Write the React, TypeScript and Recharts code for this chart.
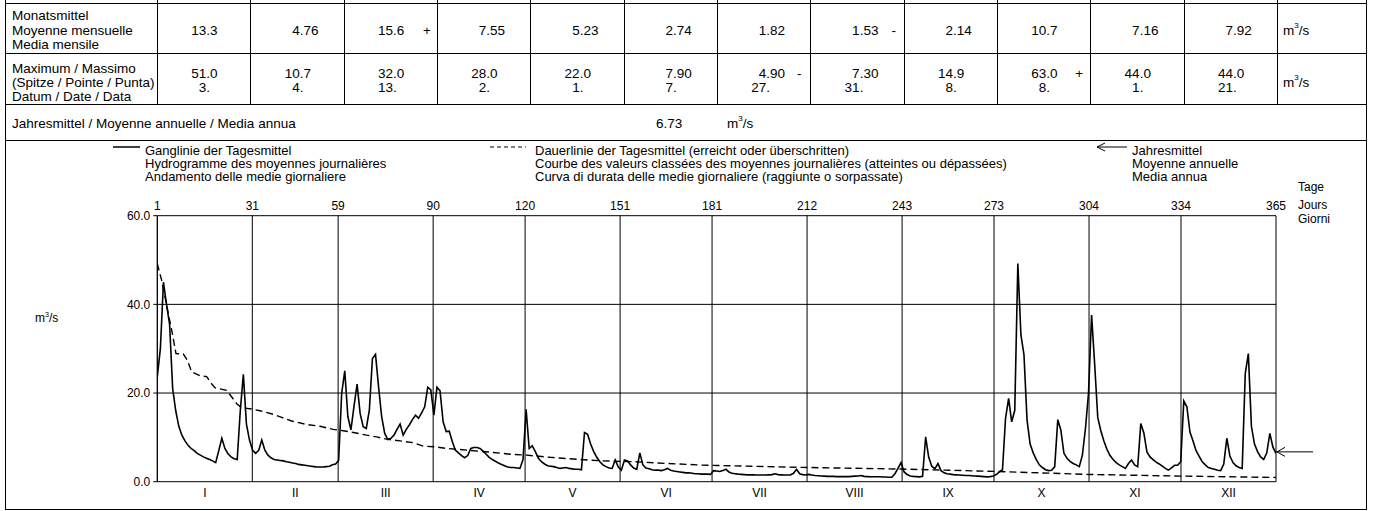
import React from 'react';
import { LineChart, Line, XAxis, YAxis, CartesianGrid, ReferenceLine } from 'recharts';

// ---------- data ----------
const monthLabels = ['I', 'II', 'III', 'IV', 'V', 'VI', 'VII', 'VIII', 'IX', 'X', 'XI', 'XII'];
const monthEndDays = [0, 31, 59, 90, 120, 151, 181, 212, 243, 273, 304, 334, 365];
const dayTickLabels = ['1', '31', '59', '90', '120', '151', '181', '212', '243', '273', '304', '334', '365'];

const monthlyMeans = ['13.3', '4.76', '15.6', '7.55', '5.23', '2.74', '1.82', '1.53', '2.14', '10.7', '7.16', '7.92'];
const meanMarks = ['', '', '+', '', '', '', '', '-', '', '', '', ''];
const monthlyMax = ['51.0', '10.7', '32.0', '28.0', '22.0', '7.90', '4.90', '7.30', '14.9', '63.0', '44.0', '44.0'];
const maxMarks = ['', '', '', '', '', '', '-', '', '', '+', '', ''];
const maxDates = ['3.', '4.', '13.', '2.', '1.', '7.', '27.', '31.', '8.', '8.', '1.', '21.'];
const annualMean = 6.73;
const annualMeanText = '6.73';

const qJan = [23.7, 30, 45, 40, 35.5, 21, 16, 12.5, 10.5, 9.2, 8.2, 7.5, 7.0, 6.4, 6.0, 5.6, 5.3, 5.0, 4.7, 4.3, 7.0, 9.8, 7.5, 6.3, 5.6, 5.2, 5.0, 16, 24.2, 13, 9.4];
const qFeb = [7.1, 6.4, 7.1, 9.4, 7.1, 6.0, 5.4, 5.0, 4.9, 4.8, 4.7, 4.5, 4.4, 4.2, 4.1, 3.9, 3.8, 3.7, 3.6, 3.5, 3.4, 3.3, 3.3, 3.3, 3.4, 3.5, 3.8, 4.0];
const qMar = [4.8, 20, 25, 14.7, 11.7, 17, 22, 15.4, 12.4, 12, 16.2, 27.8, 28.7, 21.4, 14.7, 10.9, 9.5, 9.8, 10.5, 11.8, 13, 10.5, 11.8, 12.8, 14, 15, 14.3, 15.5, 16.9, 21.3, 20.7];
const qApr = [15, 21.3, 20.5, 13.5, 11.3, 11.4, 9.0, 7.1, 6.5, 5.9, 5.4, 5.9, 7.5, 7.7, 7.7, 7.5, 6.9, 6.2, 5.5, 5.0, 4.6, 4.2, 3.9, 3.6, 3.3, 3.2, 3.2, 3.1, 3.0, 5.0];
const qMay = [16.3, 7.5, 8.1, 6.8, 5.3, 4.5, 4.0, 3.6, 3.5, 3.4, 3.2, 3.0, 3.1, 3.2, 3.0, 2.9, 2.8, 2.8, 2.7, 11.1, 10.7, 8.5, 6.8, 5.5, 4.5, 3.8, 3.4, 3.1, 3.0, 4.9, 3.3];
const qJun = [2.6, 4.9, 4.7, 3.8, 3.1, 2.8, 6.5, 3.8, 3.1, 2.9, 2.7, 2.6, 2.6, 2.5, 2.7, 3.0, 2.6, 2.4, 2.3, 2.2, 2.1, 2.0, 2.0, 1.9, 1.8, 1.8, 1.7, 1.7, 1.7, 1.65];
const qJul = [2.5, 2.4, 2.3, 2.5, 2.8, 2.2, 1.9, 1.8, 1.7, 1.65, 1.6, 1.55, 1.55, 1.55, 1.5, 1.5, 1.5, 1.5, 1.55, 1.6, 1.8, 1.6, 1.55, 1.5, 1.5, 1.5, 1.9, 2.8, 1.8, 1.6, 1.5];
const qAug = [1.65, 1.5, 1.4, 1.35, 1.3, 1.25, 1.2, 1.2, 1.2, 1.15, 1.15, 1.15, 1.15, 1.15, 1.2, 1.25, 1.3, 1.4, 1.2, 1.15, 1.1, 1.1, 1.1, 1.1, 1.05, 1.05, 1.0, 1.0, 1.8, 3.0, 4.3];
const qSep = [2.2, 1.6, 1.3, 1.2, 1.15, 1.1, 1.2, 10.1, 5.5, 3.5, 2.9, 4.1, 2.5, 2.0, 1.8, 1.7, 1.6, 1.55, 1.5, 1.45, 1.4, 1.4, 1.35, 1.3, 1.25, 1.2, 1.15, 1.1, 1.15, 1.3];
const qOct = [1.6, 2.2, 2.7, 14.3, 18.8, 13.5, 16.1, 49.2, 33.1, 28.6, 13.9, 8.5, 6.5, 5.0, 3.8, 3.2, 2.7, 2.5, 2.6, 3.4, 14.0, 11.6, 6.4, 5.3, 4.6, 4.1, 3.8, 3.4, 6.0, 12, 20];
const qNov = [37.6, 26.5, 14.5, 11.5, 9.2, 7.3, 5.9, 5.0, 4.3, 3.8, 3.4, 3.0, 4.1, 4.9, 3.8, 3.4, 13.1, 11.0, 6.7, 5.6, 5.0, 4.4, 4.0, 3.5, 3.0, 2.6, 3.1, 3.7, 3.7, 4.5];
const qDec = [18.2, 16.9, 11.2, 9.2, 7.0, 5.7, 4.5, 3.8, 3.2, 3.0, 2.8, 2.6, 2.5, 4.0, 9.8, 5.8, 4.3, 3.6, 3.2, 3.0, 24.4, 28.9, 12.5, 8.5, 6.8, 5.6, 5.0, 6.5, 10.9, 7.8, 6.4];

// duration curve (day count, value)
const durDays = [0, 0.7, 1.4, 2.5, 3.6, 4.7, 6.1, 8.5, 9.8, 11.2, 13.9, 16.1, 17.7, 18.8, 22.6, 24.3, 25.9, 27.5, 30.8, 33.5, 37.9, 40.6, 43.8, 48.7, 53.1, 57.4, 60.7, 64, 68.3, 71.6, 74.8, 79.2, 83.5, 86.8, 90.1, 94.4, 101.5, 109.6, 115.1, 120.5, 128.1, 134.1, 145, 155.9, 166.7, 177.6, 183, 212.4, 242.9, 274.4, 303.8, 334.2, 365];
const durValues = [49.2, 47.3, 45.5, 41.7, 37.9, 34.2, 28.9, 28.8, 27.4, 24.8, 23.9, 23.7, 22.1, 21.2, 20.6, 19.1, 17.6, 16.7, 16.4, 16.0, 15.2, 14.5, 13.7, 12.9, 12.5, 11.8, 11.5, 11.1, 10.5, 10.1, 9.6, 9.2, 8.8, 8.0, 7.9, 7.5, 7.1, 6.6, 6.2, 6.0, 5.5, 5.2, 4.7, 4.5, 4.1, 3.75, 3.65, 3.2, 2.85, 2.3, 1.64, 1.26, 0.96];

const dailyQ = [...qJan, ...qFeb, ...qMar, ...qApr, ...qMay, ...qJun, ...qJul, ...qAug, ...qSep, ...qOct, ...qNov, ...qDec];
const hydroData = dailyQ.map((q, i) => ({ x: (i * 365) / (dailyQ.length - 1), q }));
const durData = durDays.map((d, i) => ({ x: d, q: durValues[i] }));
const monthMid = monthLabels.map((_, i) => (monthEndDays[i] + monthEndDays[i + 1]) / 2);

// ---------- layout ----------
const FONT = '"Liberation Sans", Arial, Helvetica, sans-serif';
const PLOT_L = 157.3, PLOT_R = 1276, PLOT_T = 215.7, PLOT_B = 481.7;
const Y_W = 50, XT_H = 20, XB_H = 20;
const BOX_L = 5, BOX_R = 1366;
const COL0 = 157, COLW = 93.33;
const TS = 13.5; // table font size
const LS = 13; // legend font size

const HL = ({ x1, x2, y, c = '#000' }: any) => (
  <div style={{ position: 'absolute', left: x1, top: Math.round(y), width: x2 - x1, height: 1, background: c }} />
);
const VL = ({ x, y1, y2, c = '#000' }: any) => (
  <div style={{ position: 'absolute', left: Math.round(x), top: y1, width: 1, height: y2 - y1, background: c }} />
);
const T = ({ x, y, children, size = TS, anchor = 'start', lh = 15 }: any) => {
  const tx = anchor === 'middle' ? 'translateX(-50%)' : anchor === 'end' ? 'translateX(-100%)' : 'none';
  return (
    <div style={{ position: 'absolute', left: x, top: y - lh / 2, fontSize: size, lineHeight: lh + 'px', whiteSpace: 'nowrap', transform: tx }}>
      {children}
    </div>
  );
};
const Unit = ({ size = TS }: any) => (
  <span>
    m<span style={{ fontSize: size * 0.6, position: 'relative', top: -size * 0.45 }}>3</span>/s
  </span>
);
const Dec = ({ right, y, text }: any) => {
  const k = text.indexOf('.');
  const a = text.slice(0, k);
  const b = text.slice(k);
  const dx = right - 44;
  return (
    <>
      <T x={dx} y={y} anchor="end">{a}</T>
      <T x={dx} y={y}>{b}</T>
    </>
  );
};

const ArrowShape = (props: any) => {
  const { x2, y1 } = props;
  return (
    <g>
      <line x1={x2} x2={x2 + 37} y1={y1} y2={y1} stroke="#000" strokeWidth={1} />
      <polyline points={`${x2 + 9},${y1 - 4.5} ${x2 + 1},${y1} ${x2 + 9},${y1 + 4.5}`} fill="none" stroke="#000" strokeWidth={1} />
    </g>
  );
};

export default function App() {
  const colRights = monthlyMeans.map((_, i) => COL0 + (i + 1) * COLW);
  return (
    <div style={{ position: 'absolute', left: 0, top: 0, width: 1374, height: 511, background: '#fff', fontFamily: FONT, color: '#000', overflow: 'hidden' }}>
      <div style={{ position: 'absolute', left: 0, top: 0 }}>
        <LineChart
          width={1374}
          height={511}
          margin={{ top: PLOT_T - XT_H, right: 1374 - PLOT_R, bottom: 511 - PLOT_B - XB_H, left: PLOT_L - Y_W }}
        >
          <CartesianGrid stroke="#000" strokeWidth={1} />
          <XAxis
            type="number"
            dataKey="x"
            orientation="top"
            height={XT_H}
            domain={[0, 365]}
            ticks={monthEndDays}
            interval={0}
            allowDataOverflow
            tickFormatter={(v: any, i: number) => dayTickLabels[i]}
            axisLine={false}
            tickLine={false}
            tickSize={0}
            tickMargin={6}
            tick={{ fill: '#000', fontSize: 12, fontFamily: FONT }}
          />
          <XAxis
            xAxisId="months"
            type="number"
            dataKey="x"
            orientation="bottom"
            height={XB_H}
            domain={[0, 365]}
            ticks={monthMid}
            interval={0}
            allowDataOverflow
            tickFormatter={(v: any, i: number) => monthLabels[i]}
            axisLine={false}
            tickLine={false}
            tickSize={0}
            tickMargin={7}
            tick={{ fill: '#000', fontSize: 12, fontFamily: FONT }}
          />
          <YAxis
            type="number"
            width={Y_W}
            domain={[0, 60]}
            ticks={[0, 20, 40, 60]}
            interval={0}
            tickFormatter={(v: number) => v.toFixed(1)}
            axisLine={{ stroke: '#000' }}
            tickLine={{ stroke: '#000' }}
            tickSize={4}
            tickMargin={3}
            tick={{ fill: '#000', fontSize: 12, fontFamily: FONT }}
          />
          <Line data={durData} dataKey="q" type="linear" stroke="#000" strokeWidth={1.4} strokeDasharray="7 4" dot={false} isAnimationActive={false} />
          <Line data={hydroData} dataKey="q" type="linear" stroke="#000" strokeWidth={1.6} dot={false} isAnimationActive={false} />
          <ReferenceLine y={annualMean} stroke="none" shape={ArrowShape} />
        </LineChart>
      </div>

      {/* table frame */}
      <VL x={BOX_L} y1={0} y2={510} />
      <VL x={BOX_R} y1={0} y2={510} />
      <HL x1={BOX_L} x2={BOX_R + 1} y={3} />
      <HL x1={BOX_L} x2={BOX_R + 1} y={53} />
      <HL x1={BOX_L} x2={BOX_R + 1} y={104} />
      <HL x1={BOX_L} x2={BOX_R + 1} y={140} />
      <HL x1={BOX_L} x2={BOX_R + 1} y={509} />
      {Array.from({ length: 13 }).map((_, i) => (
        <VL key={'c' + i} x={COL0 + i * COLW} y1={0} y2={104} />
      ))}

      {/* row 1 */}
      <T x={12} y={15}>Monatsmittel</T>
      <T x={12} y={30}>Moyenne mensuelle</T>
      <T x={12} y={44}>Media mensile</T>
      {monthlyMeans.map((v, i) => (
        <React.Fragment key={'m' + i}>
          <Dec right={colRights[i]} y={30} text={v} />
          {meanMarks[i] && <T x={colRights[i] - 10} y={30} anchor="middle">{meanMarks[i]}</T>}
        </React.Fragment>
      ))}
      <T x={1283} y={30}><Unit /></T>

      {/* row 2 */}
      <T x={12} y={68}>Maximum / Massimo</T>
      <T x={12} y={82}>(Spitze / Pointe / Punta)</T>
      <T x={12} y={96}>Datum / Date / Data</T>
      {monthlyMax.map((v, i) => (
        <React.Fragment key={'x' + i}>
          <Dec right={colRights[i]} y={73} text={v} />
          <Dec right={colRights[i]} y={87} text={maxDates[i]} />
          {maxMarks[i] && <T x={colRights[i] - 11} y={73} anchor="middle">{maxMarks[i]}</T>}
        </React.Fragment>
      ))}
      <T x={1283} y={82}><Unit /></T>

      {/* row 3 */}
      <T x={12} y={123}>Jahresmittel / Moyenne annuelle / Media annua</T>
      <T x={656} y={123}>{annualMeanText}</T>
      <T x={727} y={123}><Unit /></T>

      {/* legend */}
      <svg style={{ position: 'absolute', left: 0, top: 0 }} width={1374} height={200}>
        <line x1={113} x2={140} y1={147} y2={147} stroke="#000" strokeWidth={1.5} />
        <line x1={490} x2={526} y1={147} y2={147} stroke="#000" strokeWidth={1.2} strokeDasharray="4 3" />
        <line x1={1097} x2={1127} y1={147} y2={147} stroke="#000" strokeWidth={1} />
        <polyline points="1105,143 1097,147 1105,151" fill="none" stroke="#000" strokeWidth={1} />
      </svg>
      <T x={145} y={150} size={LS} lh={13}>Ganglinie der Tagesmittel</T>
      <T x={145} y={163} size={LS} lh={13}>Hydrogramme des moyennes journalières</T>
      <T x={145} y={176} size={LS} lh={13}>Andamento delle medie giornaliere</T>
      <T x={535} y={150} size={LS} lh={13}>Dauerlinie der Tagesmittel (erreicht oder überschritten)</T>
      <T x={535} y={163} size={LS} lh={13}>Courbe des valeurs classées des moyennes journalières (atteintes ou dépassées)</T>
      <T x={535} y={176} size={LS} lh={13}>Curva di durata delle medie giornaliere (raggiunte o sorpassate)</T>
      <T x={1132} y={150} size={LS} lh={13}>Jahresmittel</T>
      <T x={1132} y={163} size={LS} lh={13}>Moyenne annuelle</T>
      <T x={1132} y={176} size={LS} lh={13}>Media annua</T>

      <T x={1298} y={187} size={12} lh={12}>Tage</T>
      <T x={1298} y={205} size={12} lh={12}>Jours</T>
      <T x={1298} y={219} size={12} lh={12}>Giorni</T>
      <T x={35} y={318} size={12} lh={12}><Unit size={12} /></T>
    </div>
  );
}
